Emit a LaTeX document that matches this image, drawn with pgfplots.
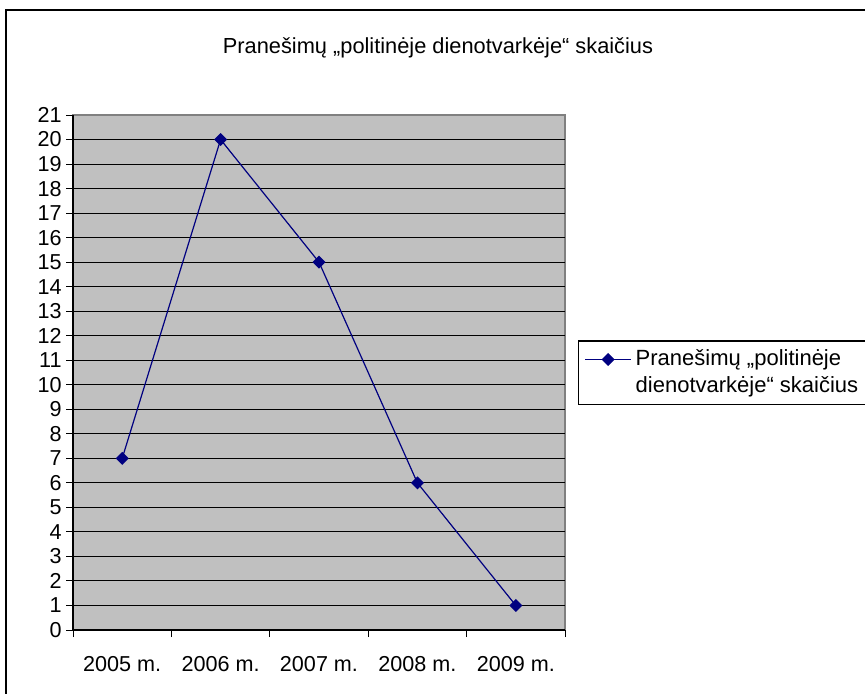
\documentclass[border=0pt]{standalone}
\usepackage{fontspec}
\setmainfont{Liberation Sans}
\usepackage{pgfplots}
\pgfplotsset{compat=1.18}
\definecolor{plotbg}{HTML}{C0C0C0}
\definecolor{navyline}{HTML}{000080}
\begin{document}
\fontsize{11}{13}\selectfont
\begin{tikzpicture}
% page = 865 x 693 px at 0.5pt per px
\useasboundingbox (0,0) rectangle (432.5pt,346.5pt);
\fill[white] (0,0) rectangle (432.5pt,346.5pt);
\draw[line width=1pt] (440pt,341.5pt) -- (3pt,341.5pt) -- (3pt,-5pt);
\node[font=\fontsize{10.9}{13}\selectfont] at (219pt,322.5pt) {Pranešimų „politinėje dienotvarkėje“ skaičius};

\begin{axis}[
  at={(36.5pt,31.5pt)}, anchor=south west,
  scale only axis,
  width=246pt, height=257.5pt,
  xmin=0, xmax=5, ymin=0, ymax=21,
  axis lines=left,
  axis line style={-, black, line width=0.75pt},
  axis background/.style={fill=plotbg, draw=gray, line width=1pt},
  xtick={0.5,1.5,2.5,3.5,4.5},
  xticklabels={2005 m.,2006 m.,2007 m.,2008 m.,2009 m.},
  minor xtick={0,1,2,3,4,5},
  major x tick style={draw=none},
  minor x tick style={black, line width=0.5pt},
  ytick={0,...,20},
  extra y ticks={21},
  extra y tick style={grid=none},
  ymajorgrids,
  grid style={black, line width=0.5pt},
  tick align=outside,
  major tick length=3.5pt, minor tick length=3.5pt,
  tick style={black, line width=0.5pt},
  /pgf/number format/assume math mode=true,
  ticklabel style={font=\fontsize{10.8}{12}\selectfont},
  yticklabel style={inner xsep=2pt},
  xticklabel style={yshift=-6pt},
  clip=false,
  legend style={at={(1.026,0.563)}, anchor=north west, draw=black, line width=0.75pt,
    fill=white, font=\fontsize{11}{13}\selectfont, row sep=-0.5pt,
    inner xsep=3pt, inner ysep=2.5pt},
  legend cell align=left,
  legend image code/.code={\draw[mark repeat=2, mark phase=2] plot coordinates {(0pt,0pt) (11.5pt,0pt) (23pt,0pt)};},
]
\addplot[navyline, line width=0.6pt, mark=square*, mark size=2pt, mark options={fill=navyline, draw=navyline, rotate=45}]
  coordinates {(0.5,7) (1.5,20) (2.5,15) (3.5,6) (4.5,1)};
\addlegendentry{Pranešimų „politinėje}
\addlegendimage{empty legend}
\addlegendentry{dienotvarkėje“ skaičius}
\end{axis}
\end{tikzpicture}
\end{document}
